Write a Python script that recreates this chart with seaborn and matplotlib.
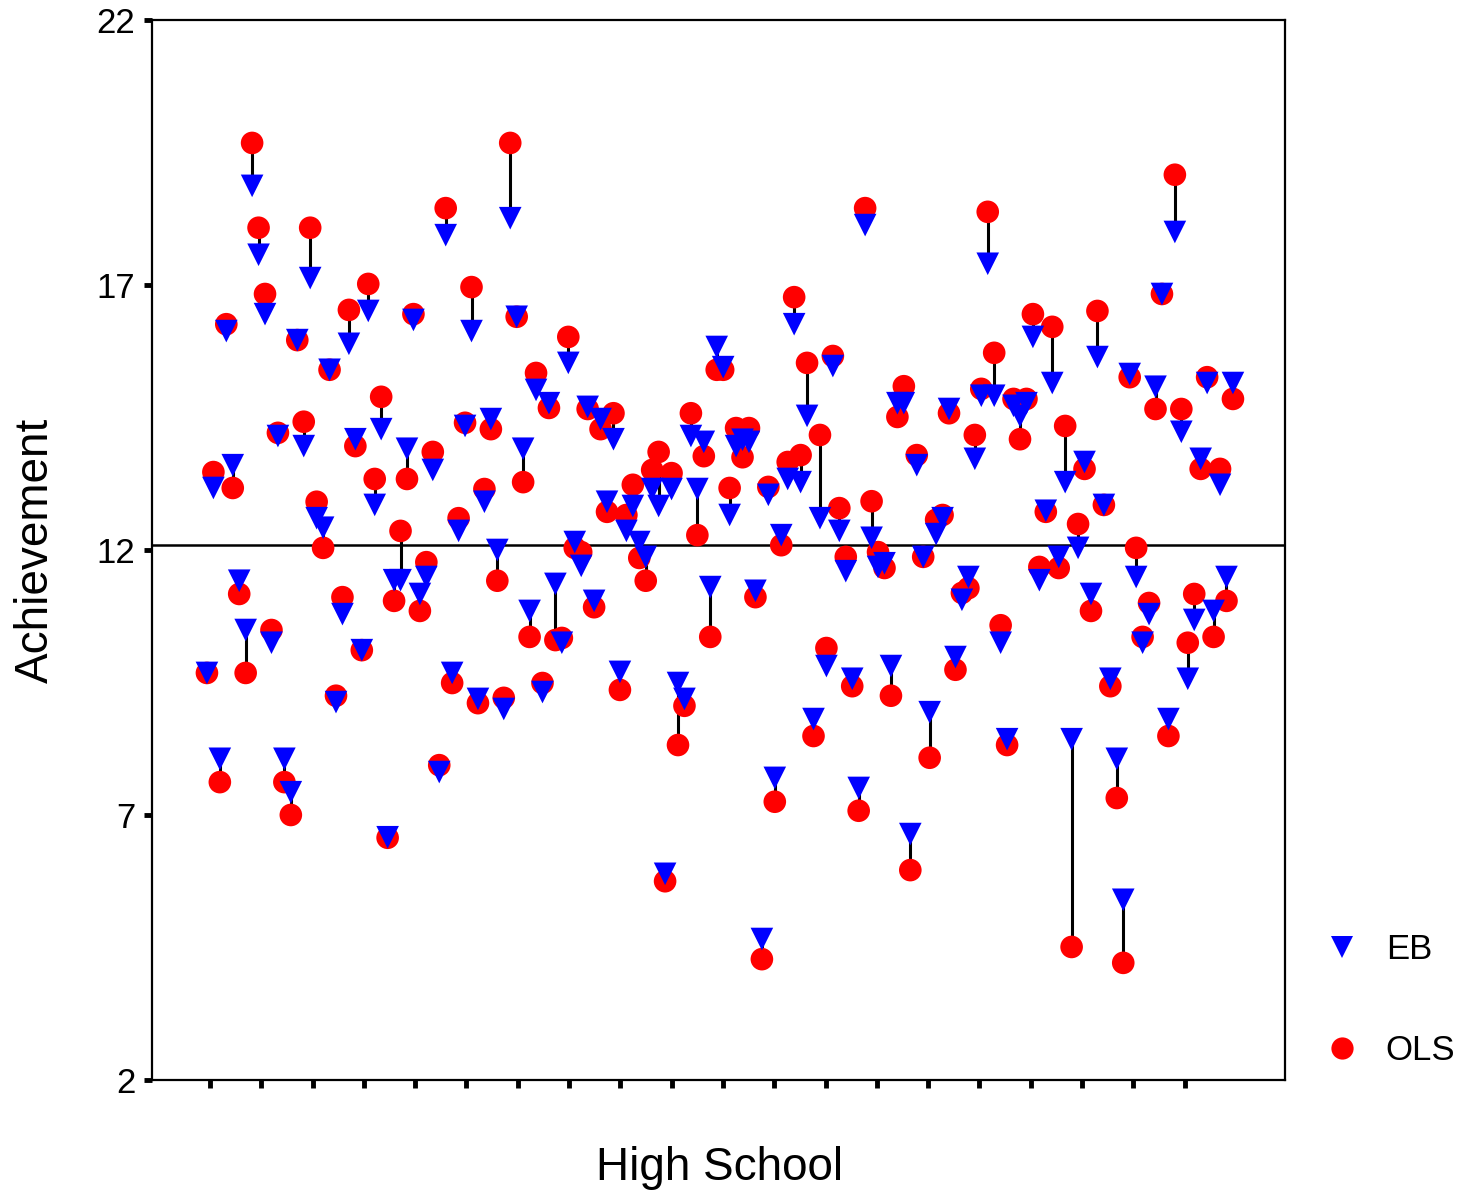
import matplotlib
matplotlib.use('Agg')
import matplotlib.pyplot as plt
import matplotlib.lines as mlines
import numpy as np
import pandas as pd
import seaborn as sns

ols = [
  9.68, 13.47, 7.62, 16.26, 13.17, 11.17, 9.68, 19.68, 18.08, 16.83,
  10.49, 14.21, 7.62, 7.00, 15.96, 14.42, 18.08, 12.91, 12.04, 15.40,
  9.25, 11.11, 16.53, 13.96, 10.11, 17.02, 13.34, 14.89, 6.57, 11.04,
  12.36, 13.34, 16.45, 10.85, 11.77, 13.85, 7.94, 18.45, 9.49, 12.60,
  14.40, 16.96, 9.11, 13.15, 14.28, 11.42, 9.21, 19.68, 16.40, 13.28,
  10.36, 15.34, 9.49, 14.68, 10.30, 10.34, 16.02, 12.04, 11.96, 14.66,
  10.92, 14.28, 12.72, 14.58, 9.36, 12.66, 13.23, 11.85, 11.42, 13.51,
  13.85, 5.75, 13.45, 8.32, 9.06, 14.58, 12.28, 13.77, 10.36, 15.40,
  15.40, 13.17, 14.30, 13.75, 14.30, 11.11, 4.28, 13.19, 7.25, 12.09,
  13.66, 16.77, 13.79, 15.53, 8.49, 14.17, 10.15, 15.66, 12.79, 11.87,
  9.43, 7.08, 18.45, 12.92, 11.96, 11.66, 9.25, 14.51, 15.09, 5.96,
  13.79, 11.87, 8.08, 12.57, 12.66, 14.58, 9.74, 11.19, 11.28, 14.17,
  15.04, 18.38, 15.72, 10.58, 8.32, 14.85, 14.09, 14.85, 16.45, 11.68,
  12.72, 16.21, 11.66, 14.34, 4.51, 12.49, 13.53, 10.85, 16.51, 12.85,
  9.43, 7.32, 4.21, 15.26, 12.04, 10.36, 11.00, 14.66, 16.83, 8.49,
  19.08, 14.66, 10.25, 11.17, 13.53, 15.26, 10.36, 13.53, 11.04, 14.85,
]
eb = [
  9.68, 13.17, 8.06, 16.13, 13.60, 11.42, 10.49, 18.87, 17.57, 16.45,
  10.25, 14.15, 8.06, 7.43, 15.96, 13.96, 17.13, 12.60, 12.42, 15.40,
  9.13, 10.79, 15.89, 14.09, 10.11, 16.51, 12.85, 14.28, 6.58, 11.43,
  11.43, 13.91, 16.34, 11.17, 11.49, 13.51, 7.81, 17.94, 9.68, 12.36,
  14.34, 16.13, 9.19, 12.91, 14.47, 12.00, 9.00, 18.26, 16.40, 13.91,
  10.85, 15.02, 9.32, 14.77, 11.36, 10.25, 15.53, 12.15, 11.70, 14.70,
  11.04, 14.47, 12.91, 14.09, 9.70, 12.36, 12.83, 12.15, 11.87, 13.15,
  12.83, 5.89, 13.15, 9.49, 9.19, 14.15, 13.15, 14.04, 11.30, 15.83,
  15.45, 12.66, 13.96, 14.08, 14.04, 11.23, 4.66, 13.04, 7.70, 12.28,
  13.34, 16.26, 13.28, 14.53, 8.81, 12.60, 9.81, 15.47, 12.36, 11.60,
  9.57, 7.51, 18.13, 12.23, 11.68, 11.75, 9.81, 14.77, 14.77, 6.64,
  13.60, 11.87, 8.94, 12.30, 12.60, 14.66, 9.98, 11.06, 11.49, 13.72,
  14.91, 17.40, 14.91, 10.25, 8.43, 14.72, 14.53, 14.77, 16.02, 11.43,
  12.74, 15.15, 11.87, 13.28, 8.43, 12.04, 13.66, 11.17, 15.64, 12.85,
  9.57, 8.06, 5.40, 15.32, 11.49, 10.25, 10.79, 15.08, 16.83, 8.81,
  18.00, 14.23, 9.57, 10.68, 13.72, 15.15, 10.85, 13.23, 11.49, 15.15,
]
grand_mean = 12.1
school = np.arange(1, len(ols) + 1)

df = pd.concat([
  pd.DataFrame({'school': school, 'achievement': ols, 'method': 'OLS'}),
  pd.DataFrame({'school': school, 'achievement': eb, 'method': 'EB'}),
], ignore_index=True)

sns.set_style('white')
plt.rcParams['font.family'] = ['Liberation Sans', 'DejaVu Sans']
plt.rcParams['text.color'] = 'black'
plt.rcParams['axes.labelcolor'] = 'black'

fig = plt.figure(figsize=(14.64, 11.96), dpi=100)
ax = fig.add_axes([0.1038, 0.0970, 0.7739, 0.8863])

# shrinkage lines and grand mean
ax.vlines(school, ols, eb, color='black', lw=2.2, zorder=1)
ax.axhline(grand_mean, color='black', lw=1.8, zorder=1)

sns.scatterplot(data=df, x='school', y='achievement', hue='method', style='method',
                markers={'OLS': 'o', 'EB': 'v'},
                palette={'OLS': '#ff0000', 'EB': '#0000ff'},
                s=265, linewidth=0, legend=False, ax=ax, zorder=2)

ax.set_xlim(-7.52, 168.06)
ax.set_ylim(2, 22)
ax.set_yticks([2, 7, 12, 17, 22])
ax.set_xticks(1.46 + 7.95 * np.arange(20))
ax.set_xticklabels([])
ax.tick_params(axis='both', direction='out', length=6, width=3.5, color='black',
               labelcolor='black', labelsize=25, pad=6, bottom=True, left=True)
for sp in ax.spines.values():
  sp.set_visible(True)
  sp.set_color('black')
  sp.set_linewidth(1.6)

ax.set_xlabel('High School', fontsize=33, color='black')
ax.set_ylabel('Achievement', fontsize=33, color='black')
ax.xaxis.set_label_coords(0.501, -0.062)
ax.yaxis.set_label_coords(-0.083, 0.5)

handles = [
  mlines.Line2D([], [], marker='v', color='#0000ff', ls='none', markersize=16, markeredgewidth=0),
  mlines.Line2D([], [], marker='o', color='#ff0000', ls='none', markersize=16, markeredgewidth=0),
]
leg = fig.legend(handles, ['EB', 'OLS'], loc='center left',
                 bbox_to_anchor=(1325 / 1464, 1 - 1000 / 1196),
                 frameon=False, fontsize=25, handlelength=1.0, handletextpad=0.75,
                 labelspacing=1.95, borderpad=0, borderaxespad=0)
for t in leg.get_texts():
  t.set_color('black')

fig.savefig('out.png', dpi=100)
